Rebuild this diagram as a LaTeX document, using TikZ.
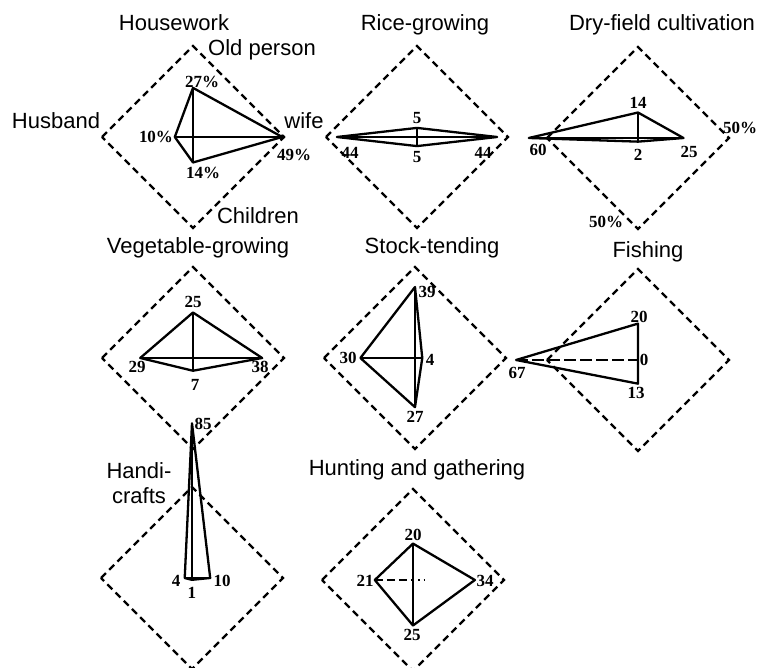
\documentclass[tikz,border=0pt]{standalone}
\usepackage{fontspec}
\setmainfont{Liberation Serif}
\setsansfont{Liberation Sans}

\tikzset{
  frame/.style={line width=1.1pt, dash pattern=on 3.5pt off 2.3pt},
  kite/.style={line width=1.15pt, line join=round},
  axis/.style={line width=0.65pt},
  chart/.style={x=0.91pt, y=-0.91pt},
  title/.style={font=\sffamily\fontsize{11}{12.5}\selectfont, inner sep=0pt,
    text height=0.75em, text depth=0.22em},
  val/.style={font=\bfseries\fontsize{8.5}{9}\selectfont, inner sep=0pt},
}

\begin{document}
\begin{tikzpicture}[x=0.5pt, y=-0.5pt]
\useasboundingbox (0,0) rectangle (762,668);

% Housework
\begin{scope}[shift={(193,137)}, chart]
\draw[frame] (-50,0) -- (0,-50) -- (50,0) -- (0,50) -- cycle;
\coordinate (hw-l) at (-10,0);
\coordinate (hw-r) at (49,0);
\coordinate (hw-t) at (0,-27);
\coordinate (hw-b) at (0,14);
\draw[kite] (hw-l) -- (hw-t) -- (hw-r) -- (hw-b) -- cycle;
\draw[axis] (hw-l) -- (hw-r) (hw-t) -- (hw-b);
\fill (hw-r) circle (1.4);
\end{scope}
\node[title] (hw-title) at (174,25) {Housework};
\node[title] (hw-old) at (262,50) {Old person};
\node[title] (hw-husband) at (56,123) {Husband};
\node[title] (hw-wife) at (304,123) {wife};
\node[title] (hw-children) at (258,218) {Children};
\node[val] (hw-tv) at (202,82) {27\%};
\node[val] (hw-bv) at (203,173) {14\%};
\node[val] (hw-lv) at (156,137) {10\%};
\node[val] (hw-rv) at (294,155) {49\%};

% Rice-growing
\begin{scope}[shift={(417,137)}, chart]
\draw[frame] (-50,0) -- (0,-50) -- (50,0) -- (0,50) -- cycle;
\coordinate (rice-l) at (-44,0);
\coordinate (rice-r) at (44,0);
\coordinate (rice-t) at (0,-5);
\coordinate (rice-b) at (0,5);
\draw[kite] (rice-l) -- (rice-t) -- (rice-r) -- (rice-b) -- cycle;
\draw[axis] (rice-l) -- (rice-r) (rice-t) -- (rice-b);
\end{scope}
\node[title] (rice-title) at (425,25) {Rice-growing};
\node[val] (rice-tv) at (417,118) {5};
\node[val] (rice-bv) at (417,157) {5};
\node[val] (rice-lv) at (350,153) {44};
\node[val] (rice-rv) at (483,153) {44};

% Dry-field cultivation
\begin{scope}[shift={(638,138)}, chart]
\draw[frame] (-50,0) -- (0,-50) -- (50,0) -- (0,50) -- cycle;
\coordinate (dry-l) at (-60,0);
\coordinate (dry-r) at (25,0);
\coordinate (dry-t) at (0,-14);
\coordinate (dry-b) at (0,2);
\draw[kite] (dry-l) -- (dry-t) -- (dry-r) -- (dry-b) -- cycle;
\draw[axis] (dry-l) -- (dry-r) (dry-t) -- (dry-b);
\end{scope}
\node[title] (dry-title) at (662,25) {Dry-field cultivation};
\node[val] (dry-tv) at (638,103) {14};
\node[val] (dry-bv) at (638,155) {2};
\node[val] (dry-lv) at (538,150) {60};
\node[val] (dry-rv) at (689,152) {25};
\node[val] (dry-max1) at (740,128) {50\%};
\node[val] (dry-max2) at (606,222) {50\%};

% Vegetable-growing
\begin{scope}[shift={(193,358)}, chart]
\draw[frame] (-50,0) -- (0,-50) -- (50,0) -- (0,50) -- cycle;
\coordinate (veg-l) at (-29,0);
\coordinate (veg-r) at (38,0);
\coordinate (veg-t) at (0,-25);
\coordinate (veg-b) at (0,7);
\draw[kite] (veg-l) -- (veg-t) -- (veg-r) -- (veg-b) -- cycle;
\draw[axis] (veg-l) -- (veg-r) (veg-t) -- (veg-b);
\end{scope}
\node[title] (veg-title) at (198,248) {Vegetable-growing};
\node[val] (veg-tv) at (193,302) {25};
\node[val] (veg-bv) at (195,385) {7};
\node[val] (veg-lv) at (137,367) {29};
\node[val] (veg-rv) at (260,367) {38};

% Stock-tending
\begin{scope}[shift={(415,358)}, chart]
\draw[frame] (-50,0) -- (0,-50) -- (50,0) -- (0,50) -- cycle;
\coordinate (stock-l) at (-30,0);
\coordinate (stock-r) at (4,0);
\coordinate (stock-t) at (0,-39);
\coordinate (stock-b) at (0,27);
\draw[kite] (stock-l) -- (stock-t) -- (stock-r) -- (stock-b) -- cycle;
\draw[axis] (stock-l) -- (stock-r) (stock-t) -- (stock-b);
\end{scope}
\node[title] (stock-title) at (432,248) {Stock-tending};
\node[val] (stock-tv) at (427,292) {39};
\node[val] (stock-bv) at (415,417) {27};
\node[val] (stock-lv) at (348,358) {30};
\node[val] (stock-rv) at (430,360) {4};

% Fishing
\begin{scope}[shift={(638,360)}, chart]
\draw[frame] (-50,0) -- (0,-50) -- (50,0) -- (0,50) -- cycle;
\coordinate (fish-l) at (-67,0);
\coordinate (fish-r) at (0,0);
\coordinate (fish-t) at (0,-20);
\coordinate (fish-b) at (0,13);
\draw[kite] (fish-l) -- (fish-t) -- (fish-b) -- cycle;
\draw[axis, dash pattern=on 6pt off 2pt] (fish-l) -- (fish-r);
\end{scope}
\node[title] (fish-title) at (648,252) {Fishing};
\node[val] (fish-tv) at (639,317) {20};
\node[val] (fish-bv) at (636,393) {13};
\node[val] (fish-lv) at (517,373) {67};
\node[val] (fish-rv) at (644,360) {0};

% Handicrafts
\begin{scope}[shift={(192,578)}, chart]
\draw[frame] (-50,0) -- (0,-50) -- (50,0) -- (0,50) -- cycle;
\coordinate (hand-l) at (-4,0);
\coordinate (hand-r) at (10,0);
\coordinate (hand-t) at (0,-85);
\coordinate (hand-b) at (0,1);
\draw[kite] (hand-l) -- (hand-t) -- (hand-r) -- (hand-b) -- cycle;
\draw[axis] (hand-l) -- (hand-r) (hand-t) -- (hand-b);
\end{scope}
\node[title, align=center] (hand-title) at (139,498) {Handi-\\crafts};
\node[val] (hand-tv) at (203,424) {85};
\node[val] (hand-bv) at (192,593) {1};
\node[val] (hand-lv) at (176,581) {4};
\node[val] (hand-rv) at (222,581) {10};

% Hunting and gathering
\begin{scope}[shift={(413,580)}, chart]
\draw[frame] (-50,0) -- (0,-50) -- (50,0) -- (0,50) -- cycle;
\coordinate (hunt-l) at (-21,0);
\coordinate (hunt-r) at (34,0);
\coordinate (hunt-t) at (0,-20);
\coordinate (hunt-b) at (0,25);
\coordinate (hunt-c) at (0,0);
\coordinate (hunt-d) at (6,0);
\draw[kite] (hunt-l) -- (hunt-t) -- (hunt-r) -- (hunt-b) -- cycle;
\draw[axis] (hunt-t) -- (hunt-b);
\draw[axis, dash pattern=on 4pt off 2pt] (hunt-l) -- (hunt-c);
\draw[axis, dotted] (hunt-c) -- (hunt-d);
\end{scope}
\node[title] (hunt-title) at (417,470) {Hunting and gathering};
\node[val] (hunt-tv) at (413,535) {20};
\node[val] (hunt-bv) at (412,635) {25};
\node[val] (hunt-lv) at (365,581) {21};
\node[val] (hunt-rv) at (485,581) {34};
\end{tikzpicture}
\end{document}
